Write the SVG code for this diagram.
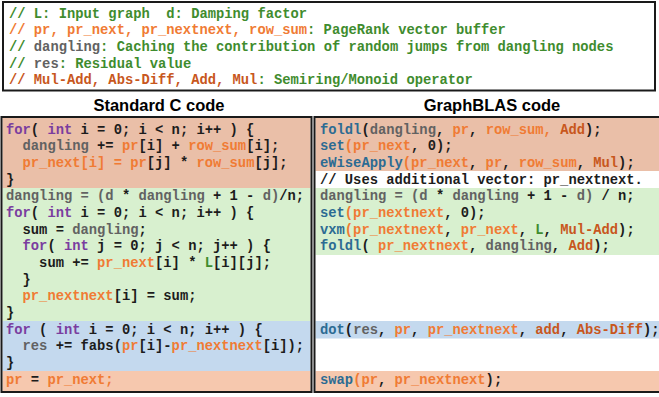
<svg xmlns="http://www.w3.org/2000/svg" width="659" height="397" viewBox="0 0 659 397">
  <style>
    .code { font-family: "Liberation Mono", "DejaVu Sans Mono", monospace; font-size: 13.8px; font-weight: bold; fill: #1c1c1c; }
    .title { font-family: "Liberation Sans", Arial, sans-serif; font-size: 16.5px; font-weight: bold; fill: #000; text-anchor: middle; }
    .k { fill: #7a3d9f; }
    .t { fill: #1c1c1c; }
    .g { fill: #626262; }
    .o { fill: #f07b34; }
    .p { fill: #c8571d; }
    .c { fill: #3f8c2e; }
    .f { fill: #2c6b93; }
    .frame { fill: none; stroke: #1a1a1a; stroke-width: 2; }
    .orange { fill: #eabfa8; }
    .orange2 { fill: #f6c8ae; }
    .green { fill: #d8f0cf; }
    .blue { fill: #c4d9ee; }
  </style>

  <!-- legend box -->
  <g id="legend">
    <rect x="3" y="2" width="652" height="88.5" fill="#fff" class="frame"/>
    <text class="code" xml:space="preserve" x="9" y="17.5"><tspan class="c">// L: Input graph  d: Damping factor</tspan></text>
    <text class="code" xml:space="preserve" x="9" y="34.2"><tspan class="o">// pr, pr_next, pr_nextnext, row_sum</tspan><tspan class="c">: PageRank vector buffer</tspan></text>
    <text class="code" xml:space="preserve" x="9" y="50.8"><tspan class="c">// </tspan><tspan class="g">dangling</tspan><tspan class="c">: Caching the contribution of random jumps from dangling nodes</tspan></text>
    <text class="code" xml:space="preserve" x="9" y="67.5"><tspan class="c">// </tspan><tspan class="g">res</tspan><tspan class="c">: Residual value</tspan></text>
    <text class="code" xml:space="preserve" x="9" y="84.2"><tspan class="p">// Mul-Add, Abs-Diff, Add, Mul</tspan><tspan class="c">: Semiring/Monoid operator</tspan></text>
  </g>

  <text class="title" x="159" y="110.5">Standard C code</text>
  <text class="title" x="492" y="110.5">GraphBLAS code</text>

  <!-- plain C implementation -->
  <g id="c-code">
    <rect class="orange" x="2.5" y="118" width="308" height="70"/>
    <rect class="green" x="2.5" y="188" width="308" height="133"/>
    <rect class="blue" x="2.5" y="321" width="308" height="50"/>
    <rect class="orange2" x="2.5" y="371" width="308" height="21"/>
    <rect class="frame" x="1.5" y="117" width="310" height="275"/>

    <text class="code" xml:space="preserve" x="6" y="133.5"><tspan class="k">for</tspan>( <tspan class="k">int</tspan> i = 0; i &lt; n; i++ ) {</text>
    <text class="code" xml:space="preserve" x="6" y="150.2">  <tspan class="g">dangling</tspan> += <tspan class="o">pr</tspan>[i] + <tspan class="o">row_sum</tspan>[i];</text>
    <text class="code" xml:space="preserve" x="6" y="166.8">  <tspan class="o">pr_next[i] = pr</tspan>[j] * <tspan class="o">row_sum</tspan>[j];</text>
    <text class="code" xml:space="preserve" x="6" y="183.5">}</text>
    <text class="code" xml:space="preserve" x="6" y="200.2"><tspan class="g">dangling = (d </tspan>*<tspan class="g"> dangling </tspan>+ 1 -<tspan class="g"> d)</tspan>/n;</text>
    <text class="code" xml:space="preserve" x="6" y="216.8"><tspan class="k">for</tspan>( <tspan class="k">int</tspan> i = 0; i &lt; n; i++ ) {</text>
    <text class="code" xml:space="preserve" x="6" y="233.5">  sum = <tspan class="g">dangling</tspan>;</text>
    <text class="code" xml:space="preserve" x="6" y="250.2">  <tspan class="k">for</tspan>( <tspan class="k">int</tspan> j = 0; j &lt; n; j++ ) {</text>
    <text class="code" xml:space="preserve" x="6" y="266.8">    sum += <tspan class="o">pr_next</tspan>[i] * <tspan class="c">L</tspan>[i][j];</text>
    <text class="code" xml:space="preserve" x="6" y="283.5">  }</text>
    <text class="code" xml:space="preserve" x="6" y="300.2">  <tspan class="o">pr_nextnext</tspan>[i] = sum;</text>
    <text class="code" xml:space="preserve" x="6" y="316.8">}</text>
    <text class="code" xml:space="preserve" x="6" y="333.5"><tspan class="k">for</tspan> ( <tspan class="k">int</tspan> i = 0; i &lt; n; i++ ) {</text>
    <text class="code" xml:space="preserve" x="6" y="350.2">  <tspan class="g">res</tspan> += fabs(<tspan class="o">pr</tspan>[i]-<tspan class="o">pr_nextnext</tspan>[i]);</text>
    <text class="code" xml:space="preserve" x="6" y="366.8">}</text>
    <text class="code" xml:space="preserve" x="6" y="383.5"><tspan class="o">pr</tspan> = <tspan class="o">pr_next;</tspan></text>
  </g>

  <!-- GraphBLAS implementation -->
  <g id="graphblas-code">
    <rect class="orange" x="315.5" y="118" width="344" height="53"/>
    <rect class="green" x="315.5" y="188" width="344" height="67"/>
    <rect class="blue" x="315.5" y="321" width="344" height="17.5"/>
    <rect class="orange2" x="315.5" y="371" width="344" height="21"/>
    <rect class="frame" x="314.5" y="117" width="350" height="275"/>

    <text class="code" xml:space="preserve" x="320" y="133.5"><tspan class="f">foldl</tspan>(<tspan class="g">dangling</tspan>, <tspan class="o">pr</tspan>, <tspan class="o">row_sum,</tspan> <tspan class="p">Add</tspan>);</text>
    <text class="code" xml:space="preserve" x="320" y="150.2"><tspan class="f">set</tspan><tspan class="o">(pr_next</tspan>, 0);</text>
    <text class="code" xml:space="preserve" x="320" y="166.8"><tspan class="f">eWiseApply</tspan><tspan class="o">(pr_next</tspan>, <tspan class="o">pr</tspan>, <tspan class="o">row_sum</tspan>, <tspan class="p">Mul</tspan>);</text>
    <text class="code" xml:space="preserve" x="320" y="183.5">// Uses additional vector: pr_nextnext.</text>
    <text class="code" xml:space="preserve" x="320" y="200.2"><tspan class="g">dangling = (d </tspan>*<tspan class="g"> dangling </tspan>+ 1 -<tspan class="g"> d) </tspan>/ n;</text>
    <text class="code" xml:space="preserve" x="320" y="216.8"><tspan class="f">set</tspan><tspan class="o">(pr_nextnext</tspan>, 0);</text>
    <text class="code" xml:space="preserve" x="320" y="233.5"><tspan class="f">vxm</tspan><tspan class="o">(pr_nextnext</tspan>, <tspan class="o">pr_next</tspan>, <tspan class="c">L</tspan>, <tspan class="p">Mul-Add</tspan>);</text>
    <text class="code" xml:space="preserve" x="320" y="250.2"><tspan class="f">foldl</tspan>( <tspan class="o">pr_nextnext</tspan>, <tspan class="g">dangling</tspan>, <tspan class="p">Add</tspan>);</text>
    <text class="code" xml:space="preserve" x="320" y="333.5"><tspan class="f">dot</tspan>(<tspan class="g">res</tspan>, <tspan class="o">pr</tspan>, <tspan class="o">pr_nextnext</tspan>, <tspan class="p">add</tspan>, <tspan class="p">Abs-Diff</tspan>);</text>
    <text class="code" xml:space="preserve" x="320" y="383.5"><tspan class="f">swap</tspan><tspan class="o">(pr</tspan>, <tspan class="o">pr_nextnext</tspan>);</text>
  </g>
</svg>
